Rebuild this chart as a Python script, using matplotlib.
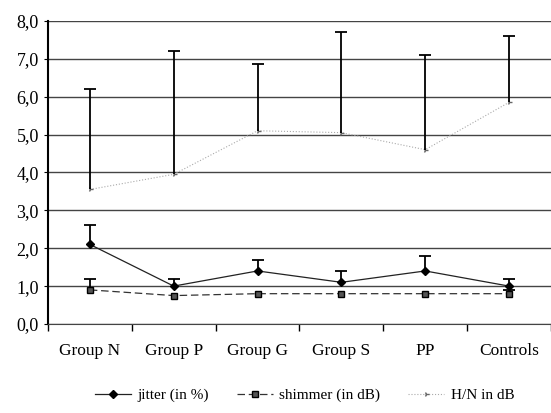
import matplotlib.pyplot as plt
import numpy as np

plt.rcParams['font.family'] = ['Liberation Serif', 'DejaVu Serif']

groups = ['Group N', 'Group P', 'Group G', 'Group S', 'PP', 'Controls']

# means and upper error (sd)
jitter = [2.1, 1.0, 1.4, 1.1, 1.4, 1.0]
jitter_err = [0.5, 0.2, 0.3, 0.3, 0.4, 0.2]
shimmer = [0.9, 0.75, 0.8, 0.8, 0.8, 0.8]
shimmer_err = [0.3, 0.0, 0.0, 0.0, 0.0, 0.1]
hn = [3.55, 3.95, 5.1, 5.05, 4.6, 5.85]
hn_err = [2.65, 3.25, 1.75, 2.65, 2.5, 1.75]

x = np.arange(len(groups))

fig = plt.figure(figsize=(5.51, 4.13), dpi=100)
ax = fig.add_axes([0.087, 0.2155, 0.913, 0.734])

# horizontal grid
for yv in np.arange(0, 9, 1.0):
    ax.axhline(yv, color='#444444', lw=1.0, zorder=0)

# upper-only error bars (no cap at the bottom)
for mean, err in [(hn, hn_err), (jitter, jitter_err), (shimmer, shimmer_err)]:
    mean = np.array(mean)
    top = mean + np.array(err)
    keep = np.array(err) > 0
    ax.vlines(x[keep], mean[keep], top[keep], color='black', lw=1.3, zorder=3)
    ax.plot(x[keep], top[keep], ls='none', marker='_', ms=9, mew=1.3,
            color='black', zorder=3)

ax.plot(x, jitter, color='#222222', lw=0.9, marker='D', ms=4, mfc='black',
        mec='black', label='jitter (in %)', zorder=4)
ax.plot(x, shimmer, color='#333333', lw=0.9, ls=(0, (6, 3)), marker='s', ms=4,
        mfc='#555555', mec='black', label='shimmer (in dB)', zorder=4)
ax.plot(x, hn, color='#aaaaaa', lw=0.8, ls=':', marker='4', ms=4,
        mec='#666666', label='H/N in dB', zorder=2)

ax.set_xlim(-0.5, 5.5)
ax.set_ylim(0, 8)
ax.set_yticks(np.arange(0, 9, 1.0))
ax.yaxis.set_major_formatter(plt.FuncFormatter(lambda v, p: ('%.1f' % v).replace('.', ',')))
ax.set_xticks(x)
ax.set_xticklabels(groups)
ax.set_xticks(np.arange(-0.5, 6, 1.0), minor=True)
ax.tick_params(axis='x', which='major', length=0, pad=14, labelsize=12.5)
ax.tick_params(axis='x', which='minor', length=5, direction='out', width=1)
ax.tick_params(axis='y', length=3, labelsize=13, direction='out')

for s in ['top', 'right']:
    ax.spines[s].set_visible(False)
ax.spines['left'].set_linewidth(1.5)
ax.spines['bottom'].set_color('#444444')

ax.legend(loc='center', bbox_to_anchor=(0.51, -0.235), ncol=3, frameon=False,
          fontsize=11, handlelength=2.4, columnspacing=1.8, handletextpad=0.4,
          borderpad=0.1)

fig.savefig('out.png', dpi=100)
